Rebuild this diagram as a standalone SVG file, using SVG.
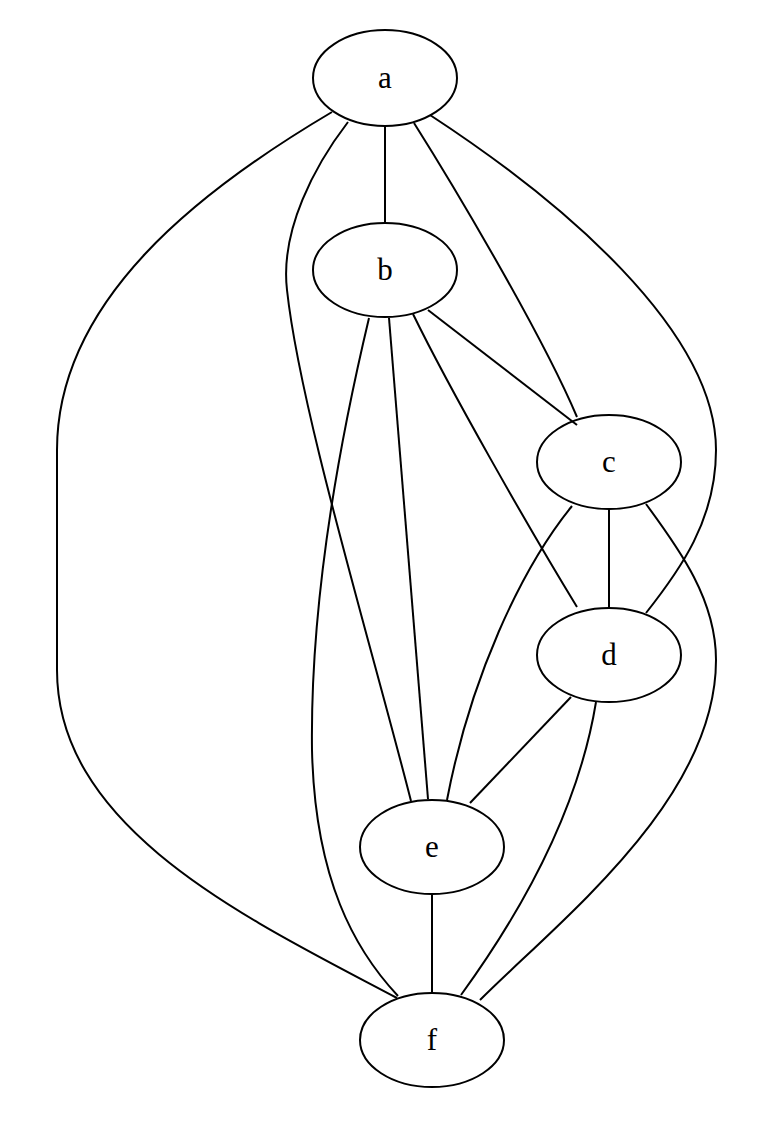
<svg xmlns="http://www.w3.org/2000/svg" width="766" height="1124" viewBox="0 0 766 1124">
<style>
.n ellipse{fill:none;stroke:#000;stroke-width:2}
.n text{font-family:"Liberation Serif","Times New Roman",serif;font-size:31px;text-anchor:middle;fill:#000}
#edges path{fill:none;stroke:#000;stroke-width:2}
</style>
<rect width="766" height="1124" fill="#fff"/>
<g id="edges">
<path d="M385,126 L385,223"/>
<path d="M332,112 C200,190 57,300 57,450 L57,670 C57,830 250,920 397,998"/>
<path d="M348,122 C315,165 280,230 287,290 C300,410 370,640 411,801"/>
<path d="M414,123 C450,180 540,330 577,417"/>
<path d="M430,115 C560,200 716,330 716,450 C716,520 680,570 646,613"/>
<path d="M428,310 L577,425"/>
<path d="M413,314 C450,390 530,530 577,607"/>
<path d="M389,318 L428,799"/>
<path d="M369,318 C340,440 310,600 312,750 C315,880 355,950 398,996"/>
<path d="M609,509 L609,607"/>
<path d="M572,506 C520,570 470,680 447,800"/>
<path d="M646,504 C680,550 716,600 716,660 C716,800 560,920 480,1000"/>
<path d="M571,697 L470,803"/>
<path d="M596,702 C580,800 530,900 461,995"/>
<path d="M432,894 L432,993"/>
</g>
<g id="a" class="n"><ellipse cx="385" cy="78" rx="72" ry="48"/><text x="385" y="88">a</text></g>
<g id="b" class="n"><ellipse cx="385" cy="270" rx="72" ry="47"/><text x="385" y="280">b</text></g>
<g id="c" class="n"><ellipse cx="609" cy="462" rx="72" ry="47"/><text x="609" y="472">c</text></g>
<g id="d" class="n"><ellipse cx="609" cy="655" rx="72" ry="47"/><text x="609" y="665">d</text></g>
<g id="e" class="n"><ellipse cx="432" cy="847" rx="72" ry="47"/><text x="432" y="857">e</text></g>
<g id="f" class="n"><ellipse cx="432" cy="1040" rx="72" ry="47"/><text x="432" y="1050">f</text></g>
</svg>
